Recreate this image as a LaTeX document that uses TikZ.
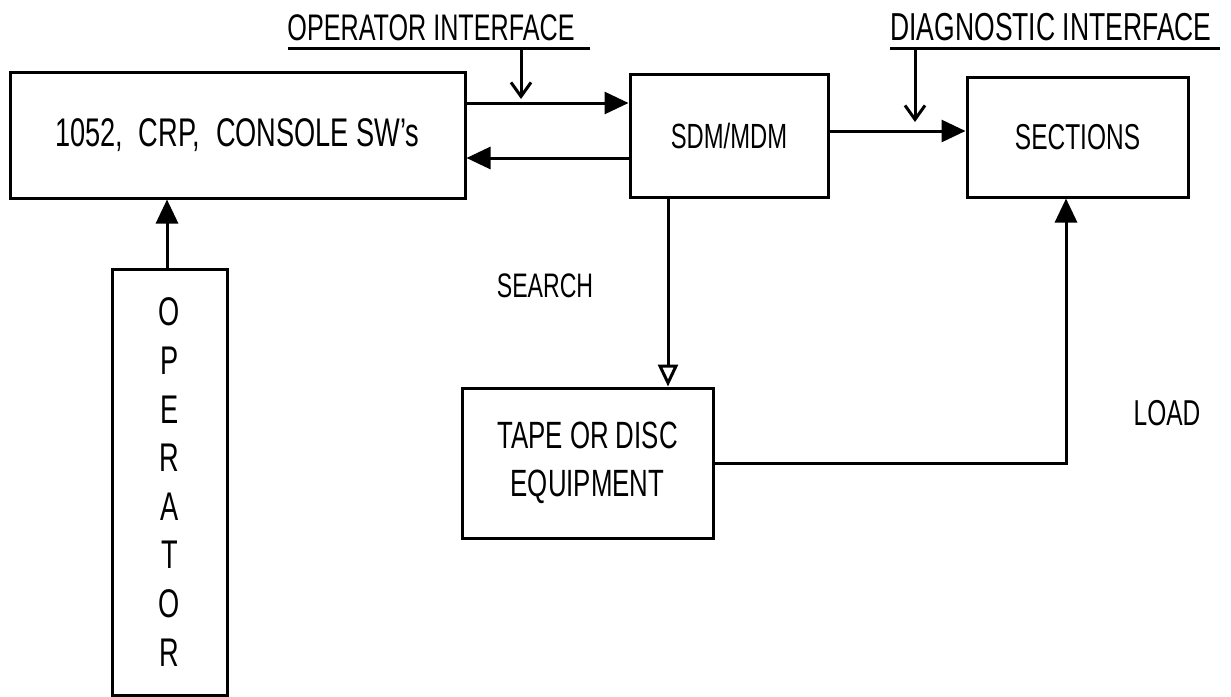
\documentclass[tikz,border=0pt]{standalone}
\usepackage{fontspec}
\setmainfont[FakeStretch=0.68]{Liberation Sans}
\usetikzlibrary{arrows.meta}
\newcommand\lblsz[1]{\fontsize{#1}{48.6}\selectfont}
\begin{document}
\begin{tikzpicture}[x=1pt,y=-1pt,
  line width=3pt,
  box/.style={draw, rectangle, inner sep=0pt, line width=3pt, align=center},
  lbl/.style={inner sep=0pt, anchor=base},
  fill arrow/.style={-{Triangle[length=24pt,width=22pt]}},
  open arrow/.style={-{Triangle[open,length=22pt,width=20pt]}},
  barb arrow/.style={-{Straight Barb[length=14pt,width=20pt]}},
]
\useasboundingbox (0,0) rectangle (1231,696);

% boxes
\node[box, minimum width=455pt, minimum height=126pt, font=\lblsz{40}] (A) at (237.5,135)
  {1052,\hspace{8pt} CRP,\hspace{8pt} CONSOLE SW's};
\node[box, minimum width=198pt, minimum height=123pt, font=\lblsz{35}] (SDM) at (729,135.5) {SDM/MDM};
\node[box, minimum width=221pt, minimum height=120pt, font=\lblsz{36}] (SECT) at (1077.5,137) {SECTIONS};
\node[box, minimum width=251pt, minimum height=150pt, font=\lblsz{38}] (TAPE) at (587.5,463)
  {TAPE OR DISC\\EQUIPMENT};
\node[box, minimum width=115pt, minimum height=426pt, font=\lblsz{40}] (OPER) at (169.5,482)
  {O\\P\\E\\R\\A\\T\\O\\R};

% labels
\node[lbl, font=\lblsz{37}] (oilab) at (431,40) {OPERATOR INTERFACE};
\node[lbl, font=\lblsz{39}] (dilab) at (1051,40) {DIAGNOSTIC INTERFACE};
\node[lbl, font=\lblsz{34}] (search) at (545,297) {SEARCH};
\node[lbl, font=\lblsz{36}] (load) at (1167,425) {LOAD};

% underlines
\draw (288,48) -- (590,48);
\draw (890,48) -- (1220,48);

% interface pointers
\coordinate (oitop) at (521,48);
\coordinate (oiend) at (521,99);
\coordinate (ditop) at (915,48);
\coordinate (diend) at (915,122);
\draw[barb arrow] (oitop) -- (oiend);
\draw[barb arrow] (ditop) -- (diend);

% connectors
\draw[fill arrow] (A.east |- 0,103) -- (SDM.west |- 0,103);
\draw[fill arrow] (SDM.west |- 0,158) -- (A.east |- 0,158);
\draw[fill arrow] (SDM.east |- 0,131) -- (SECT.west |- 0,131);
\draw[open arrow] (SDM.south -| 668,0) -- (TAPE.north -| 668,0);
\draw[fill arrow] (TAPE.east) -| (SECT.south -| 1066,0);
\draw[fill arrow] (OPER.north -| 167,0) -- (A.south -| 167,0);
\end{tikzpicture}
\end{document}
